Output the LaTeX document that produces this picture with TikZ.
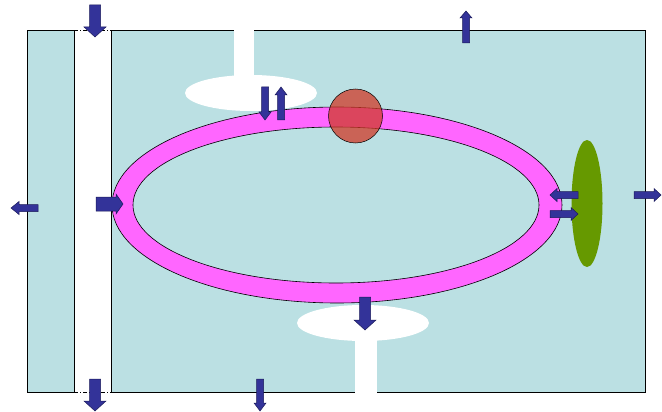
\documentclass[tikz,border=0pt]{standalone}
\usetikzlibrary{shapes.geometric}
\definecolor{cyanbg}{HTML}{BBE0E3}
\definecolor{ringpink}{HTML}{FF66FF}
\definecolor{arrowblue}{HTML}{333399}
\definecolor{arrowedge}{HTML}{1A1A5A}
\definecolor{leafgreen}{HTML}{669900}
\definecolor{ballred}{HTML}{D03A28}
\tikzset{
  cellbox/.style={fill=cyanbg, draw=black, line width=0.7pt},
  whitearea/.style={fill=white, draw=none},
  ringstyle/.style={fill=ringpink, draw=black, line width=0.6pt, even odd rule},
  blockarrow/.style={fill=arrowblue, draw=arrowedge, line width=0.5pt, line join=miter},
  pics/barrow/.style n args={4}{code={
    % length #1, shaft half-width #2, head half-width #3, head length #4 ; points along +x
    \filldraw[blockarrow] (0,-#2) -- ({#1-#4},-#2) -- ({#1-#4},-#3) -- (#1,0)
      -- ({#1-#4},#3) -- ({#1-#4},#2) -- (0,#2) -- cycle;
  }}
}
\begin{document}
\begin{tikzpicture}[x=1pt,y=-1pt]
\useasboundingbox (0,0) rectangle (662,412);
% compartments
\path[cellbox] (27,30) rectangle (74,392);
\path[cellbox] (111,30) rectangle (645,392);
\draw[black, line width=0.6pt, dash pattern=on 4pt off 2pt on 1pt off 2pt] (74,30) -- (111,30);
\draw[black, line width=0.6pt, dash pattern=on 4pt off 2pt on 1pt off 2pt] (74,392) -- (111,392);
% white channels and pools
\path[whitearea] (234,28) rectangle (254,95);
\path[whitearea] (251,93) ellipse [x radius=66, y radius=18];
\path[whitearea] (355,320) rectangle (377,394);
\path[whitearea] (363,323) ellipse [x radius=66, y radius=18];
% ring
\path[ringstyle] (337,205) ellipse [x radius=225, y radius=98]
                 (336,205) ellipse [x radius=203, y radius=78];
% red ball
\node[circle, minimum size=54pt, inner sep=0pt, fill=ballred, fill opacity=0.75,
      draw=black, line width=0.5pt] (ball) at (355.5,116) {};
% green body
\node[ellipse, minimum width=31pt, minimum height=127pt, inner sep=0pt,
      fill=leafgreen, draw=none] (leaf) at (587,203.5) {};
% arrows
\pic[rotate=-90] at (95,5) {barrow={32}{5.5}{11}{10}};
\pic[rotate=-90] at (95,379) {barrow={32}{5.5}{11}{10}};
\pic[rotate=180] at (38,208) {barrow={27}{3.5}{6.5}{8}};
\pic at (96,204) {barrow={27}{7}{10}{7}};
\pic[rotate=-90] at (265,87) {barrow={33}{3.5}{6}{8}};
\pic[rotate=90] at (281,120) {barrow={33}{3.5}{6}{8}};
\pic[rotate=90] at (466,43) {barrow={32}{3.5}{6}{7}};
\pic[rotate=180] at (578,195) {barrow={28}{3.5}{6.5}{7}};
\pic at (550,214) {barrow={28}{3.5}{6.5}{7}};
\pic at (634,195) {barrow={27}{3.5}{6.5}{7}};
\pic[rotate=-90] at (365,297) {barrow={33}{5.5}{11}{10}};
\pic[rotate=-90] at (260,379) {barrow={32}{3.5}{6}{8}};
\end{tikzpicture}
\end{document}
